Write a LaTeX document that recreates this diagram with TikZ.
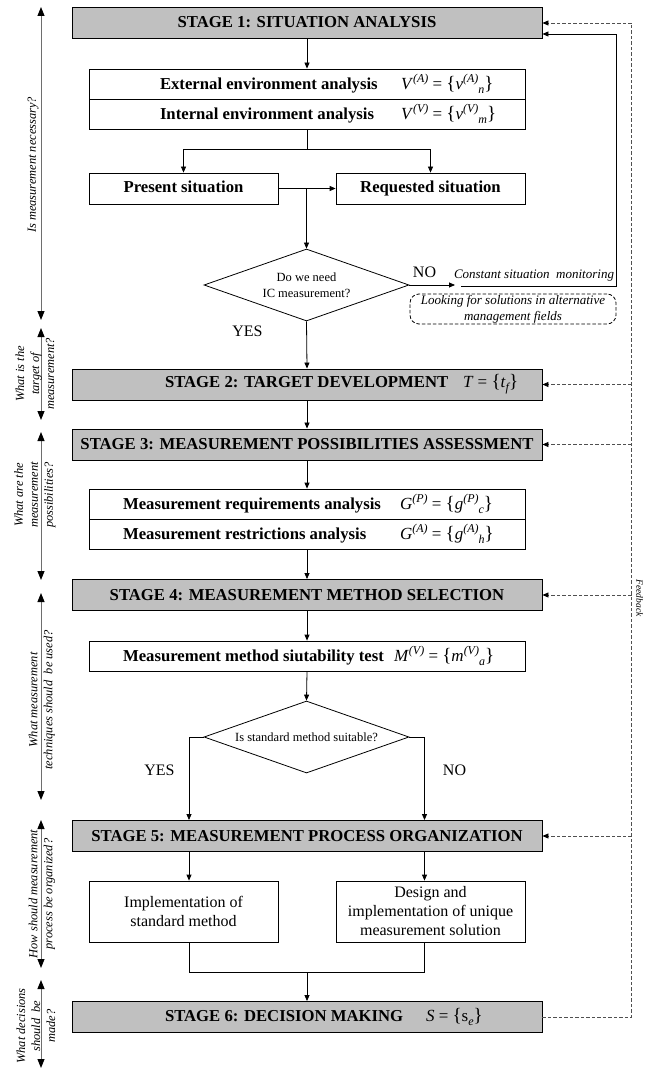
\documentclass[tikz,border=0pt]{standalone}
\usepackage{fontspec}
\setmainfont{Liberation Serif}
\usetikzlibrary{arrows.meta,shapes.geometric,calc}
\definecolor{stagegray}{RGB}{192,192,192}
\definecolor{fbgray}{RGB}{80,80,80}
\definecolor{lgray}{RGB}{110,110,110}
\newcommand{\fsup}[1]{\raisebox{0.8ex}{\fontsize{12}{12}\selectfont\itshape #1}}
\newcommand{\fsub}[1]{\raisebox{-0.55ex}{\fontsize{12}{12}\selectfont\itshape #1}}
\newcommand{\lbr}{{\fontsize{19}{19}\selectfont\{}}
\newcommand{\rbr}{{\fontsize{19}{19}\selectfont\}}}
\newcommand{\fml}[4]{{\mdseries\fontsize{17}{19}\selectfont\textit{#1}\fsup{#3}~=~\lbr\textit{#2}\fsup{#3}\fsub{#4}\rbr}}
\begin{document}
\begin{tikzpicture}[x=1pt,y=-1pt,
  stagebox/.style={draw=black, line width=0.9pt, fill=stagegray, minimum width=470pt, minimum height=31pt, inner sep=0pt, font=\fontsize{16.7}{19}\selectfont\bfseries},
  rowbox/.style={draw, line width=0.8pt, fill=white, minimum width=436pt, minimum height=30pt, inner sep=0pt, font=\fontsize{16.7}{19}\selectfont\bfseries},
  plainbox/.style={draw, line width=0.8pt, minimum width=189pt, minimum height=31pt, inner sep=0pt, text height=11.5pt, text depth=3.5pt, font=\fontsize{16.7}{19}\selectfont\bfseries},
  textbox/.style={draw, line width=0.8pt, minimum width=189pt, minimum height=61pt, inner sep=0pt, align=center, font=\fontsize{16}{19}\selectfont},
  decision/.style={diamond, draw, line width=0.8pt, minimum width=205pt, minimum height=72pt, inner sep=0pt, aspect=2.85, align=center, font=\fontsize{12.5}{16}\selectfont},
  arr/.style={-{Triangle[length=6pt,width=5pt]}, line width=0.8pt},
  ln/.style={line width=0.8pt},
  fbline/.style={draw=fbgray, line width=0.8pt, dash pattern=on 3.5pt off 2pt},
  fbarr/.style={fbline, -{Triangle[length=6pt,width=5pt,color=black]}},
  altbox/.style={draw, line width=0.8pt, dash pattern=on 3.5pt off 2pt, rounded corners=9pt, minimum width=206pt, minimum height=30pt, inner sep=0pt, align=center, font=\fontsize{13}{16}\selectfont\itshape},
  qlabel/.style={rotate=90, align=center, font=\fontsize{12.4}{15}\selectfont\itshape, inner sep=0pt},
  qarr/.style={draw=lgray, line width=1pt, {Triangle[length=9pt,width=7pt,color=black]}-{Triangle[length=9pt,width=7pt,color=black]}},
  yn/.style={font=\fontsize{16}{18}\selectfont, inner sep=0pt}
]
\useasboundingbox (0,0) rectangle (645,1075);

% ---- stage 1
\node[stagebox] (s1) at (307,22.5) {STAGE 1: SITUATION ANALYSIS};
\node[rowbox] (ext) at (307,84) {\makebox[436pt][l]{\hspace*{71pt}\makebox[241pt][l]{External environment analysis}\fml{V}{v}{(A)}{n}}};
\node[rowbox] (int) at (307,114) {\makebox[436pt][l]{\hspace*{71pt}\makebox[241pt][l]{Internal environment analysis}\fml{V}{v}{(V)}{m}}};
\node[plainbox] (pres) at (183.5,188.5) {Present situation};
\node[plainbox] (req) at (430.5,188.5) {Requested situation};
\node[decision] (d1) at (306.5,285) {Do we need\\IC measurement?};
\node[font=\fontsize{13}{15}\selectfont\itshape, inner sep=0pt] (mon) at (534,276) {Constant situation~ monitoring};
\node[altbox] (alt) at (513,309) {Looking for solutions in alternative\\management fields};
\node[yn] (no1) at (424.5,272) {NO};
\node[yn] (yes1) at (247.5,331) {YES};

\coordinate (j1) at (307,149);
\coordinate (j2) at (306.5,188.5);
\coordinate (m0) at (455,285);
\coordinate (m1) at (461,286);
\coordinate (m2) at (616,286);
\coordinate (m3) at (616,34);

\draw[arr] (s1) -- (ext);
\draw[ln] (int.south) -- (j1);
\draw[arr] (j1) -| (pres.north);
\draw[arr] (j1) -| (req.north);
\draw[arr] (pres.east) -- (req.west);
\draw[arr] (j2) -- (d1.north);
\draw[arr] (d1.east) -- (m0);
\draw[ln] (m1) -- (m2) -- (m3);
\draw[arr] (m3) -- (m3 -| s1.east);

% ---- stage 2,3
\node[stagebox] (s2) at (307,384.5) {\makebox[470pt][l]{\hspace*{93pt}\makebox[298pt][l]{STAGE 2: TARGET DEVELOPMENT}{\mdseries\fontsize{17}{19}\selectfont\textit{T}~=~\lbr\textit{t}\fsub{f}\rbr}}};
\draw[arr] (d1.south) -- (s2.north);
\node[stagebox] (s3) at (307,444.5) {STAGE 3: MEASUREMENT POSSIBILITIES ASSESSMENT};
\draw[arr] (s2.south) -- (s3.north);
\node[rowbox] (greq) at (307,504) {\makebox[436pt][l]{\hspace*{34pt}\makebox[277pt][l]{Measurement requirements analysis}\fml{G}{g}{(P)}{c}}};
\node[rowbox] (gres) at (307,534) {\makebox[436pt][l]{\hspace*{34pt}\makebox[277pt][l]{Measurement restrictions analysis}\fml{G}{g}{(A)}{h}}};
\draw[arr] (s3.south) -- (greq.north);

% ---- stage 4
\node[stagebox] (s4) at (307,595) {STAGE 4: MEASUREMENT METHOD SELECTION};
\draw[arr] (gres.south) -- (s4.north);
\node[rowbox] (mtest) at (307,656) {\makebox[436pt][l]{\hspace*{34pt}\makebox[271pt][l]{Measurement method siutability test}\fml{M}{m}{(V)}{a}}};
\draw[arr] (s4.south) -- (mtest.north);
\node[decision] (d2) at (306.5,737) {Is standard method suitable?};
\draw[arr] (mtest.south) -- (d2.north);
\node[yn] (yes2) at (159.5,770) {YES};
\node[yn] (no2) at (454.5,770) {NO};

% ---- stage 5
\node[stagebox] (s5) at (307,836) {STAGE 5: MEASUREMENT PROCESS ORGANIZATION};
\coordinate (bl) at (189,972);
\coordinate (br) at (424.5,972);
\coordinate (bm) at (307,972);
\draw[arr] (d2.west) -| (bl |- s5.north);
\draw[arr] (d2.east) -| (br |- s5.north);
\node[textbox] (impl) at (183.5,911.5) {Implementation of\\standard method};
\node[textbox] (design) at (430.5,911.5) {Design and\\implementation of unique\\measurement solution};
\draw[arr] (bl |- s5.south) -- (bl |- impl.north);
\draw[arr] (br |- s5.south) -- (br |- design.north);
\draw[ln] (bl |- impl.south) -- (bl) -- (br) -- (br |- design.south);

% ---- stage 6
\node[stagebox] (s6) at (307,1017) {\makebox[470pt][l]{\hspace*{93pt}\makebox[261pt][l]{STAGE 6: DECISION MAKING}{\mdseries\fontsize{17}{19}\selectfont\textit{S}~=~\lbr s\fsub{e}\rbr}}};
\draw[arr] (bm) -- (s6.north);

% ---- feedback
\coordinate (fbtop) at (631.5,23);
\coordinate (fbbot) at (631.5,1017);
\draw[fbline] (s6.east) -- (fbbot) -- (fbtop);
\draw[fbarr] (fbtop) -- (fbtop -| s1.east);
\draw[fbarr] (s2.east -| fbtop) -- (s2.east);
\draw[fbarr] (s3.east -| fbtop) -- (s3.east);
\draw[fbarr] (s4.east -| fbtop) -- (s4.east);
\draw[fbarr] (s5.east -| fbtop) -- (s5.east);
\node[rotate=-90, font=\fontsize{9.5}{11}\selectfont\itshape, inner sep=0pt] (fbt) at (639.5,598) {Feedback};

% ---- left question arrows
\coordinate (q1t) at (41,7);    \coordinate (q1b) at (41,320);
\coordinate (q2t) at (41,328);  \coordinate (q2b) at (41,420);
\coordinate (q3t) at (41,432);  \coordinate (q3b) at (41,580);
\coordinate (q4t) at (41,593);  \coordinate (q4b) at (41,800);
\coordinate (q5t) at (41,820);  \coordinate (q5b) at (41,968);
\coordinate (q6t) at (41,980);  \coordinate (q6b) at (41,1068);
\draw[qarr] (q1b) -- (q1t);
\draw[qarr] (q2b) -- (q2t);
\draw[qarr] (q3b) -- (q3t);
\draw[qarr] (q4b) -- (q4t);
\draw[qarr] (q5b) -- (q5t);
\draw[qarr] (q6b) -- (q6t);
\node[qlabel] (l1) at (33,165) {Is measurement necessary?};
\node[qlabel] (l2) at (35,374) {What is the\\target of\\measurement?};
\node[qlabel] (l3) at (35,495) {What are the\\measurement\\possibilities?};
\node[qlabel] (l4) at (42,700) {What measurement\\techniques should~ be used?};
\node[qlabel] (l5) at (42,894) {How should measurement\\process be organized?};
\node[qlabel] (l6) at (36,1026) {What decisions\\should~ be\\made?};
\end{tikzpicture}
\end{document}
